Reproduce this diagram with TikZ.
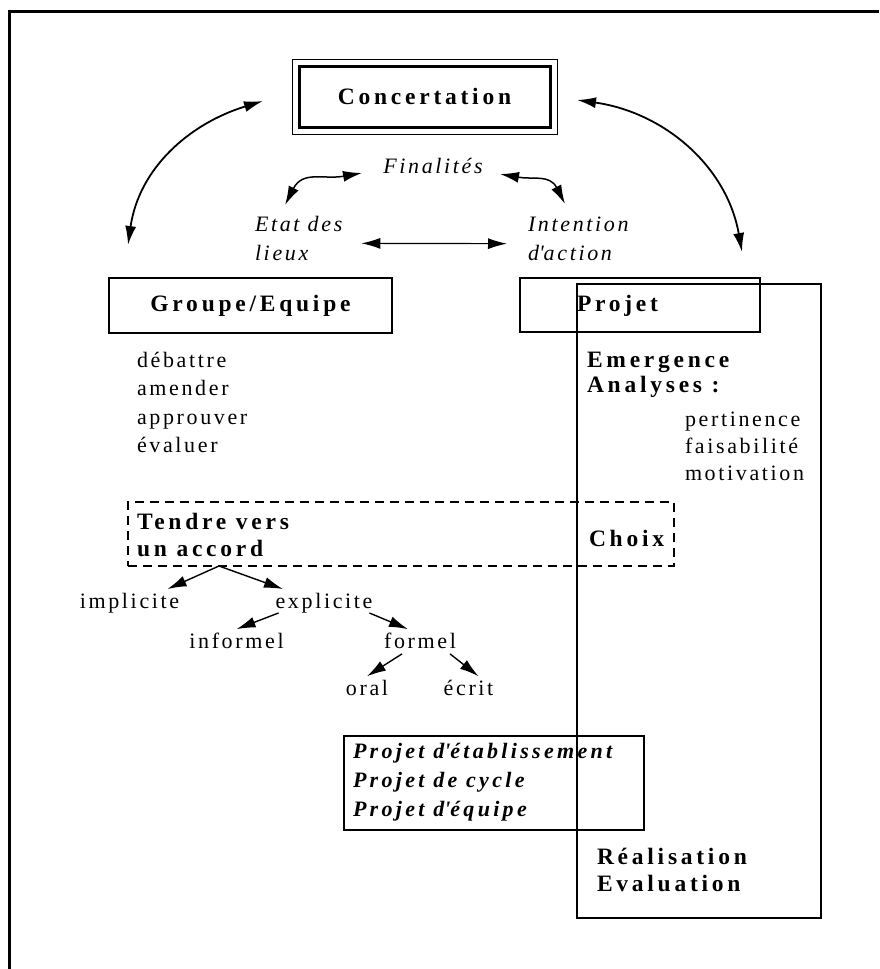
\documentclass[tikz,border=0pt]{standalone}
\usepackage{fontspec}
\setmainfont{Liberation Serif}[LetterSpace=12]
\usetikzlibrary{arrows.meta}

\tikzset{
  box/.style={draw, line width=1.5pt, outer sep=0pt, inner sep=0pt},
  lbl/.style={font=\fontsize{22}{28.5}\selectfont, inner sep=0pt, outer sep=0pt},
  ital/.style={font=\fontsize{22}{28.3}\selectfont\itshape, inner sep=0pt, outer sep=0pt},
  hd/.style={font=\fontsize{23.5}{27}\selectfont\bfseries\addfontfeature{LetterSpace=16}, inner sep=0pt, outer sep=0pt},
  bi/.style={font=\fontsize{22}{29}\selectfont\bfseries\itshape\addfontfeature{LetterSpace=15}, inner sep=0pt, outer sep=0pt},
  pointe/.style={-{Latex[length=19pt,width=11pt]}, line width=1.4pt},
  aller retour/.style={{Latex[length=19pt,width=11pt]}-{Latex[length=19pt,width=11pt]}, line width=1.8pt},
}

\begin{document}
\begin{tikzpicture}[x=1pt,y=-1pt]
  \useasboundingbox (0,0) rectangle (879,969);

  % cadre
  \draw[line width=3.2pt] (9.5,969) -- (9.5,11.7) -- (879,11.7);

  % concertation
  \node[box, hd, line width=3pt, minimum width=251pt, minimum height=61pt] (conc) at (424.5,96.5) {Concertation};
  \draw[line width=1pt] ([shift={(-7pt,7pt)}]conc.north west) rectangle ([shift={(7pt,-7pt)}]conc.south east);

  \node[ital] (fin) at (433,166) {Finalités};
  \node[ital, align=left, anchor=base west] (etat) at (255,260) {Etat des\\lieux};
  \node[ital, align=left, anchor=base west] (intent) at (528,260) {Intention\\d\textquotesingle action};

  % les deux cadres
  \node[box, hd, minimum width=283pt, minimum height=55pt] (groupe) at (250.5,305.5) {Groupe/Equipe};
  \node[box, minimum width=240pt, minimum height=54pt] (projet) at (640,305) {};
  \node[hd, anchor=west] (projtxt) at (577,306) {Projet};
  \node[box, minimum width=244pt, minimum height=634pt] (bloc) at (699,601) {};

  \node[lbl, align=left, anchor=base west] (verbes) at (137,452.5) {débattre\\amender\\approuver\\évaluer};
  \node[hd, align=left, anchor=base west] (emerg) at (587,392) {Emergence\\[-2pt]Analyses :};
  \node[lbl, align=left, anchor=base west] (crit) at (685,480.5) {pertinence\\[-1.5pt]faisabilité\\[-1.5pt]motivation};

  % accord
  \node[box, dash pattern=on 9pt off 6pt, minimum width=546pt, minimum height=64pt] (accbox) at (401,534) {};
  \node[hd, align=left, anchor=base west] (tendre) at (137,556.3) {Tendre vers\\un accord};
  \node[hd, anchor=west] (choix) at (589,538) {Choix};
  \coordinate (acc) at ([xshift=-182pt]accbox.south);

  % arbre
  \node[lbl] (impl) at (129.5,603) {implicite};
  \node[lbl] (expl) at (324,603) {explicite};
  \node[lbl] (inf) at (236.5,641) {informel};
  \node[lbl] (form) at (420,641) {formel};
  \node[lbl] (oral) at (367,688) {oral};
  \node[lbl] (ecrit) at (468.5,688) {écrit};

  \draw[pointe] (acc) -- ([xshift=38pt,yshift=4pt]impl.north);
  \draw[pointe] (acc) -- ([xshift=-41pt,yshift=4pt]expl.north);
  \draw[pointe] ([xshift=3pt]expl.south west) -- ([yshift=4pt]inf.north);
  \draw[pointe] ([xshift=-3pt]expl.south east) -- ([xshift=-12pt,yshift=4pt]form.north);
  \draw[pointe] ([xshift=-18pt,yshift=-5pt]form.south) -- ([yshift=4pt]oral.north);
  \draw[pointe] ([xshift=30pt,yshift=-5pt]form.south) -- ([xshift=10pt,yshift=4pt]ecrit.north);

  % projets
  \node[box, minimum width=300pt, minimum height=94pt] (etab) at (494,783) {};
  \node[bi, align=left, anchor=base west] (listep) at (353,816) {Projet d\textquotesingle établissement\\Projet de cycle\\Projet d\textquotesingle équipe};
  \node[hd, align=left, anchor=base west] (real) at (597,891) {Réalisation\\Evaluation};

  % fleches
  \coordinate (cg) at (263,101);
  \coordinate (gh) at (128,245);
  \coordinate (cd) at (577,100);
  \coordinate (ph) at (742,252);
  \coordinate (fg) at (362,173);
  \coordinate (eh) at (285,205);
  \coordinate (fd) at (500,174);
  \coordinate (ih) at (565,204);
  \draw[aller retour] (cg) to[out=197,in=82] (gh);
  \draw[aller retour] (cd) to[out=-8,in=100] (ph);
  \draw[aller retour, line width=1.5pt] (fg) to[out=190,in=63,looseness=1.2] (eh);
  \draw[aller retour, line width=1.5pt] (fd) to[out=-10,in=117,looseness=1.2] (ih);
  \draw[aller retour, line width=1.2pt] ([shift={(19pt,-5pt)}]etat.east) -- ([shift={(-21pt,-5pt)}]intent.west);
\end{tikzpicture}
\end{document}
